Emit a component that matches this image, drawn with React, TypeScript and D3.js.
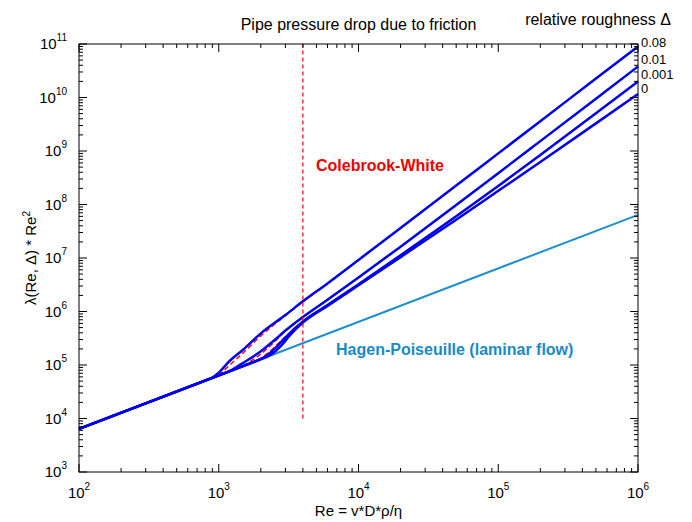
import React from 'react';
import * as d3 from 'd3';

// Re values and lambda*Re^2 (blue = model curves)
const roughness = ['0.08', '0.01', '0.001', '0'];

const re008 = [100, 900, 1000, 1200, 1500, 2000, 3000, 4000, 6000, 1e4, 2e4, 5e4, 1e5, 2e5, 5e5, 1e6];
const val008 = [6.4e3, 5.76e4, 7.2e4, 1.2e5, 1.95e5, 3.9e5, 8.6e5, 1.55e6, 3.35e6, 9.2e6, 3.64e7, 2.26e8, 9.03e8, 3.61e9, 2.26e10, 9.02e10];

const re001 = [100, 1200, 1500, 2000, 2500, 3000, 4000, 6000, 1e4, 2e4, 5e4, 1e5, 2e5, 5e5, 1e6];
const val001 = [6.4e3, 7.68e4, 1.1e5, 1.8e5, 2.9e5, 4.4e5, 7.9e5, 1.66e6, 4.32e6, 1.63e7, 9.77e7, 3.85e8, 1.53e9, 9.51e9, 3.8e10];

const re0001 = [100, 1800, 2200, 2600, 3000, 4000, 6000, 1e4, 2e4, 5e4, 1e5, 2e5, 5e5, 1e6];
const val0001 = [6.4e3, 1.15e5, 1.5e5, 2.2e5, 3.3e5, 6.5e5, 1.32e6, 3.24e6, 1.125e7, 6.01e7, 2.22e8, 8.41e8, 5.06e9, 1.99e10];

const re0 = [100, 2000, 2400, 2800, 3200, 4000, 6000, 1e4, 2e4, 5e4, 1e5, 2e5, 5e5, 1e6];
const val0 = [6.4e3, 1.28e5, 1.6e5, 2.3e5, 3.5e5, 6.2e5, 1.27e6, 3.09e6, 1.04e7, 5.2e7, 1.8e8, 6.24e8, 3.28e9, 1.16e10];

// Colebrook-White (red dashed)
const cwRe008 = [1000, 1200, 1500, 2000, 3000, 4000, 6000, 1e4, 2e4, 5e4, 1e5, 2e5, 5e5, 1e6];
const cwVal008 = [6.4e4, 1.0e5, 1.7e5, 3.5e5, 8.4e5, 1.52e6, 3.33e6, 9.2e6, 3.64e7, 2.26e8, 9.0e8, 3.6e9, 2.25e10, 9.0e10];
const cwRe001 = [1500, 2000, 2500, 3000, 4000, 6000, 1e4, 2e4, 5e4, 1e5, 2e5, 5e5, 1e6];
const cwVal001 = [9.6e4, 1.6e5, 2.7e5, 4.3e5, 7.8e5, 1.65e6, 4.3e6, 1.62e7, 9.7e7, 3.84e8, 1.52e9, 9.5e9, 3.79e10];
const cwRe0001 = [1900, 2300, 2700, 3200, 4000, 6000, 1e4, 2e4, 5e4, 1e5, 2e5, 5e5, 1e6];
const cwVal0001 = [1.22e5, 1.75e5, 2.6e5, 3.9e5, 6.5e5, 1.31e6, 3.23e6, 1.12e7, 6.0e7, 2.21e8, 8.4e8, 5.05e9, 1.98e10];
const cwRe0 = [2100, 2500, 2900, 3300, 4000, 6000, 1e4, 2e4, 5e4, 1e5, 2e5, 5e5, 1e6];
const cwVal0 = [1.35e5, 1.8e5, 2.55e5, 3.8e5, 6.3e5, 1.26e6, 3.08e6, 1.03e7, 5.19e7, 1.79e8, 6.22e8, 3.27e9, 1.15e10];

// Hagen-Poiseuille laminar line
const lamRe = [100, 1e6];
const lamVal = [6.4e3, 6.4e7];

const reTransition = 4000;
const transitionSpan = [1e4, 1e11];

const xDecades = [2, 3, 4, 5, 6];
const yDecades = [3, 4, 5, 6, 7, 8, 9, 10, 11];

const W = 692;
const H = 522;
const left = 79, right = 638, top = 44, bottom = 472;
const FONT = '"Liberation Sans", Arial, sans-serif';

const zip = (a: number[], b: number[]) => a.map((r, i) => [r, b[i]] as [number, number]);

export default function App() {
  const x = d3.scaleLog().domain([1e2, 1e6]).range([left, right]);
  const y = d3.scaleLog().domain([1e3, 1e11]).range([bottom, top]);

  const smooth = d3.line<[number, number]>()
    .x(d => x(d[0]))
    .y(d => y(d[1]))
    .curve(d3.curveMonotoneX);
  const straight = d3.line<[number, number]>()
    .x(d => x(d[0]))
    .y(d => y(d[1]));

  const blue = [zip(re008, val008), zip(re001, val001), zip(re0001, val0001), zip(re0, val0)];
  const red = [zip(cwRe008, cwVal008), zip(cwRe001, cwVal001), zip(cwRe0001, cwVal0001), zip(cwRe0, cwVal0)];
  const labelY = [47, 64, 79, 93];

  const xMinor: number[] = [];
  xDecades.slice(0, -1).forEach(e => { for (let k = 2; k < 10; k++) xMinor.push(k * 10 ** e); });
  const yMinor: number[] = [];
  yDecades.slice(0, -1).forEach(e => { for (let k = 2; k < 10; k++) yMinor.push(k * 10 ** e); });

  return (
    <svg width={W} height={H} style={{ position: 'absolute', left: 0, top: 0, background: '#fff' }} fontFamily={FONT}>
      <rect x={0} y={0} width={W} height={H} fill="#fff" />

      {/* laminar line */}
      <path d={straight(zip(lamRe, lamVal)) || ''} fill="none" stroke="#1e8fcc" strokeWidth={2} />

      {/* Colebrook-White, dashed, under the blue */}
      {red.map((pts, i) => (
        <path key={'r' + i} d={smooth(pts) || ''} fill="none" stroke="#ff0000" strokeWidth={1.5} strokeDasharray="5,3" />
      ))}
      {blue.map((pts, i) => (
        <g key={'b' + i}>
          <path d={straight(pts.slice(0, 2)) || ''} fill="none" stroke="#0000f0" strokeWidth={2.5} />
          <path d={smooth(pts.slice(1)) || ''} fill="none" stroke="#0000f0" strokeWidth={2.5} />
        </g>
      ))}

      {/* transition marker */}
      <line x1={x(reTransition)} x2={x(reTransition)} y1={y(transitionSpan[0])} y2={y(transitionSpan[1])}
        stroke="#ff0000" strokeWidth={1.2} strokeDasharray="4,3" />

      {/* frame and ticks */}
      <rect x={left} y={top} width={right - left} height={bottom - top} fill="none" stroke="#000" strokeWidth={1} />
      {xDecades.map(e => {
        const px = x(10 ** e);
        return (
          <g key={'xm' + e}>
            <line x1={px} x2={px} y1={bottom} y2={bottom - 8} stroke="#000" />
            <line x1={px} x2={px} y1={top} y2={top + 8} stroke="#000" />
            <text x={px} y={498} textAnchor="middle" fontSize={15}>10<tspan dy={-8} fontSize={10}>{e}</tspan></text>
          </g>
        );
      })}
      {xMinor.map(v => (
        <g key={'xn' + v}>
          <line x1={x(v)} x2={x(v)} y1={bottom} y2={bottom - 4} stroke="#000" />
          <line x1={x(v)} x2={x(v)} y1={top} y2={top + 4} stroke="#000" />
        </g>
      ))}
      {yDecades.map(e => {
        const py = y(10 ** e);
        return (
          <g key={'ym' + e}>
            <line x1={left} x2={left + 8} y1={py} y2={py} stroke="#000" />
            <line x1={right} x2={right - 8} y1={py} y2={py} stroke="#000" />
            <text x={67} y={py + 5} textAnchor="end" fontSize={15}>10<tspan dy={-8} fontSize={10}>{e}</tspan></text>
          </g>
        );
      })}
      {yMinor.map(v => (
        <g key={'yn' + v}>
          <line x1={left} x2={left + 4} y1={y(v)} y2={y(v)} stroke="#000" />
          <line x1={right} x2={right - 4} y1={y(v)} y2={y(v)} stroke="#000" />
        </g>
      ))}

      {/* texts */}
      <text x={(left + right) / 2} y={30} textAnchor="middle" fontSize={16}>Pipe pressure drop due to friction</text>
      <text x={671} y={25} textAnchor="end" fontSize={16}>relative roughness Δ</text>
      {roughness.map((r, i) => (
        <text key={r} x={641} y={labelY[i]} fontSize={13}>{r}</text>
      ))}
      <text x={316} y={171} fontSize={16} fontWeight="bold" fill="#ee0000">Colebrook-White</text>
      <text x={336} y={355} fontSize={16} fontWeight="bold" fill="#1a8ac4">Hagen-Poiseuille (laminar flow)</text>
      <text x={(left + right) / 2} y={516} textAnchor="middle" fontSize={15}>Re = v*D*ρ/η</text>
      <text transform={`translate(36,${(top + bottom) / 2}) rotate(-90)`} textAnchor="middle" fontSize={15}>
        λ(Re, Δ) * Re<tspan dy={-6} fontSize={10}>2</tspan>
      </text>
    </svg>
  );
}
